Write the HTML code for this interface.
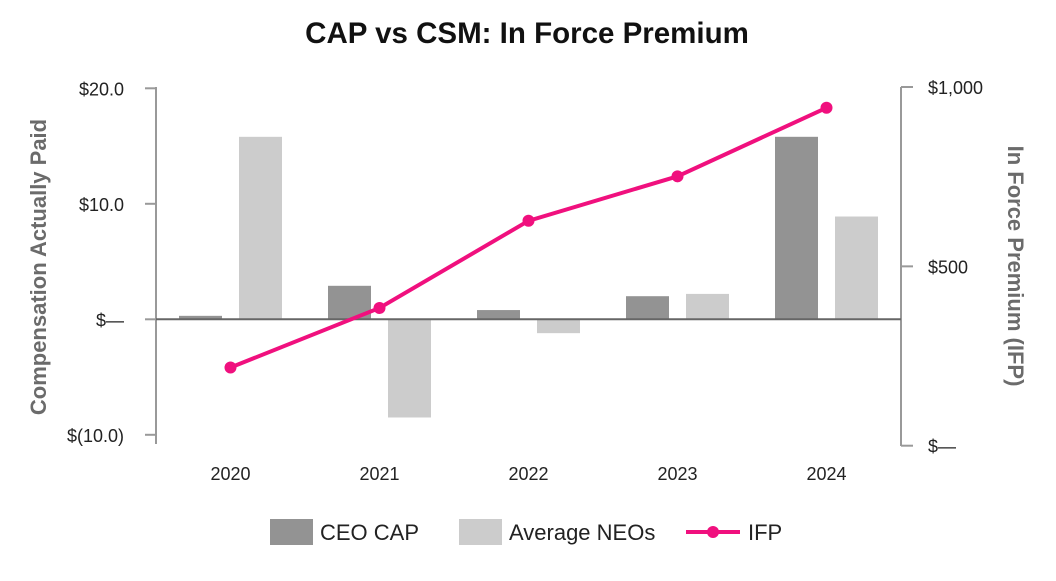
<!DOCTYPE html>
<html><head><meta charset="utf-8"><style>
body{margin:0;background:#fff;width:1056px;height:576px;overflow:hidden;font-family:"Liberation Sans",sans-serif}
</style></head><body>
<svg id="c" width="1056" height="576" xmlns="http://www.w3.org/2000/svg">
<text x="527" y="43" text-anchor="middle" font-size="29.5" font-weight="bold" fill="#111">CAP vs CSM: In Force Premium</text>
<text transform="translate(46,267) rotate(-90)" text-anchor="middle" font-size="22" font-weight="bold" fill="#6b6b6b">Compensation Actually Paid</text>
<text transform="translate(1008,266) rotate(90)" text-anchor="middle" font-size="22" font-weight="bold" fill="#6b6b6b">In Force Premium (IFP)</text>
<g id="g"></g>
<g>
<rect x="270" y="519" width="43" height="26" fill="#939393"/>
<text x="320" y="540" font-size="22" fill="#222">CEO CAP</text>
<rect x="459" y="519" width="43" height="26" fill="#cccccc"/>
<text x="509" y="540" font-size="22" fill="#222">Average NEOs</text>
<line x1="686" y1="532" x2="740" y2="532" stroke="#f0107e" stroke-width="4"/>
<circle cx="713" cy="532" r="6" fill="#f0107e"/>
<text x="748" y="540" font-size="22" fill="#222">IFP</text>
</g>
</svg>
<script>
const categories=["2020","2021","2022","2023","2024"];
const ceoCap=[0.3,2.9,0.8,2.0,15.8];
const avgNeo=[15.8,-8.5,-1.2,2.2,8.9];
const ifp=[218,384,627,751,942];
const leftTicks=[20,10,0,-10];
const leftLabels=["$20.0","$10.0","$—","$(10.0)"];
const rightTicks=[1000,500,0];
const rightLabels=["$1,000","$500","$—"];
const NS="http://www.w3.org/2000/svg",g=document.getElementById('g');
const X0=156,X1=901,step=(X1-X0)/categories.length;
const yL=v=>319.3-v*11.55, yR=v=>445.7-v*0.3587, xc=i=>X0+step*(i+0.5);
function mk(t,a){const e=document.createElementNS(NS,t);for(const k in a)e.setAttribute(k,a[k]);g.appendChild(e);return e;}
let e;
e=mk('line',{x1:X0,y1:87,x2:X0,y2:444,stroke:'#999','stroke-width':2});


e=mk('line',{x1:X1,y1:87,x2:X1,y2:446,stroke:'#999','stroke-width':2});


leftTicks.forEach((v,i)=>{
 e=mk('line',{x1:X0-11,y1:yL(v),x2:X0,y2:yL(v),stroke:'#999','stroke-width':2});
 
 
 e=mk('text',{x:124,y:yL(v)+7,'text-anchor':'end','font-size':18,fill:'#222'});e.textContent=leftLabels[i];
 
 
});
rightTicks.forEach((v,i)=>{
 e=mk('line',{x1:X1,y1:yR(v),x2:X1+12,y2:yR(v),stroke:'#999','stroke-width':2});
 
 
 e=mk('text',{x:928,y:yR(v)+7,'font-size':18,fill:'#222'});e.textContent=rightLabels[i];
 
 
});
categories.forEach((c,i)=>{
 const cx=xc(i);
 [[ceoCap[i],-30,'#939393','bar-ceo-'+c],[avgNeo[i],30,'#cccccc','bar-neo-'+c]].forEach(([v,o,col,nm])=>{
  const y=Math.min(yL(v),yL(0)),h=Math.abs(yL(v)-yL(0));
  e=mk('rect',{x:cx+o-21.5,y:y,width:43,height:h,fill:col});
  
  
 });
 e=mk('text',{x:cx,y:480,'text-anchor':'middle','font-size':18,fill:'#222'});e.textContent=c;
 
 
});
e=mk('line',{x1:X0,y1:yL(0),x2:X1,y2:yL(0),stroke:'#666','stroke-width':2});


e=mk('polyline',{points:ifp.map((v,i)=>xc(i)+','+yR(v)).join(' '),fill:'none',stroke:'#f0107e','stroke-width':4});


ifp.forEach((v,i)=>{
 e=mk('circle',{cx:xc(i),cy:yR(v),r:6,fill:'#f0107e'});
 
 
});
</script>
</body></html>
